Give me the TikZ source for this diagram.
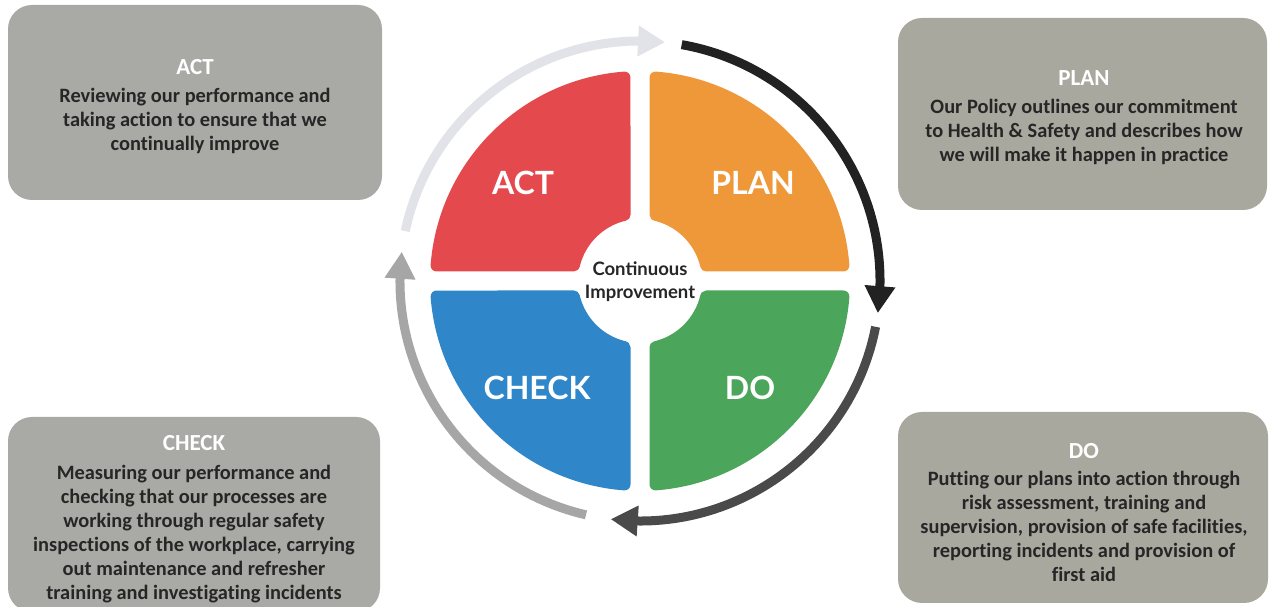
\documentclass[tikz,border=0pt]{standalone}
\usepackage{fontspec}
\setmainfont{Carlito}[Ligatures=NoCommon]
\newfontfamily\labfont{Lato}
\usetikzlibrary{arrows.meta,bending}
\definecolor{actred}{HTML}{E4494E}
\definecolor{planorange}{HTML}{EF9839}
\definecolor{dogreen}{HTML}{4BA55A}
\definecolor{checkblue}{HTML}{2F86C9}
\definecolor{boxgrayA}{HTML}{A9A9A6}
\definecolor{boxgrayB}{HTML}{A9A89F}
\definecolor{textdark}{HTML}{262626}
\definecolor{arrowlight}{HTML}{E2E2E9}
\definecolor{arrowblack}{HTML}{222222}
\definecolor{arrowdark}{HTML}{4A4A4A}
\definecolor{arrowmid}{HTML}{A6A6A6}
\newcommand\boxtitle[1]{{\color{white}\fontsize{23}{24}\selectfont #1}}
\tikzset{
  infobox/.style={rounded corners=24pt, inner sep=0pt, draw=none},
  boxtext/.style={align=center, inner sep=0pt, anchor=north, text=textdark,
    font=\fontsize{20.4}{24}\selectfont\bfseries},
  quadlabel/.style={text=white, inner sep=0pt, font=\labfont\fontsize{32}{36}\selectfont\bfseries},
  centertext/.style={align=center, inner sep=0pt, text=textdark,
    font=\labfont\fontsize{18.5}{23}\selectfont\bfseries},
  cyc/.style={line width=9pt, -{Triangle[width=29pt,length=27pt]}},
  quadfill/.style={fill=#1, draw=#1, line width=12pt, line join=round}
}
\begin{document}
\begin{tikzpicture}[x=1pt,y=1pt]
\useasboundingbox (0,0) rectangle (1269,607);
\fill[white] (0,0) rectangle (1269,607);
\coordinate (c) at (640,326);

% info boxes
\node[infobox, fill=boxgrayA, minimum width=374pt, minimum height=195pt] (actbox) at (195,504.5) {};
\node[infobox, fill=boxgrayB, minimum width=369pt, minimum height=192pt] (planbox) at (1082.5,493) {};
\node[infobox, fill=boxgrayA, minimum width=372pt, minimum height=195pt] (checkbox) at (194,92.5) {};
\node[infobox, fill=boxgrayB, minimum width=370pt, minimum height=191pt] (dobox) at (1083,99.5) {};

\node[boxtext] (acttext) at (195,548) {\boxtitle{ACT}\\[4pt]Reviewing our performance and\\taking action to ensure that we\\continually improve};
\node[boxtext] (plantext) at (1084,537) {\boxtitle{PLAN}\\[4pt]Our Policy outlines our commitment\\to Health \& Safety and describes how\\we will make it happen in practice};
\node[boxtext] (checktext) at (194,172) {\boxtitle{CHECK}\\[5pt]Measuring our performance and\\checking that our processes are\\working through regular safety\\inspections of the workplace, carrying\\out maintenance and refresher\\training and investigating incidents};
\node[boxtext] (dotext) at (1084,164) {\boxtitle{DO}\\[3pt]Putting our plans into action through\\risk assessment, training and\\supervision, provision of safe facilities,\\reporting incidents and provision of\\first aid};

% quadrants
\foreach \ang/\col in {0/planorange, 90/actred, 180/checkblue, 270/dogreen}
  \filldraw[quadfill=\col, shift={(c)}, rotate=\ang]
    (15.5,66.2) -- (15.5,203.4) arc[start angle=85.64, end angle=4.36, radius=204]
    -- (66.2,15.5) arc[start angle=13.19, end angle=76.81, radius=68] -- cycle;

\node[quadlabel] (actlab) at (523,424) {ACT};
\node[quadlabel] (planlab) at (753,424) {PLAN};
\node[quadlabel] (checklab) at (537,219) {CHECK};
\node[quadlabel] (dolab) at (750,219) {DO};
\node[centertext] (center) at (640,325) {Continuous\\Improvement};

% cycle arrows
\draw[cyc, arrowlight] ([shift={(168:240)}]c) arc[start angle=168, end angle=84, radius=240];
\draw[cyc, arrowblack] ([shift={(80:240)}]c) arc[start angle=80, end angle=-7.7, radius=240];
\draw[cyc, arrowdark] ([shift={(-11:240)}]c) arc[start angle=-11, end angle=-97, radius=240];
\draw[cyc, arrowmid] ([shift={(-103:240)}]c) arc[start angle=-103, end angle=-187, radius=240];
\end{tikzpicture}
\end{document}
